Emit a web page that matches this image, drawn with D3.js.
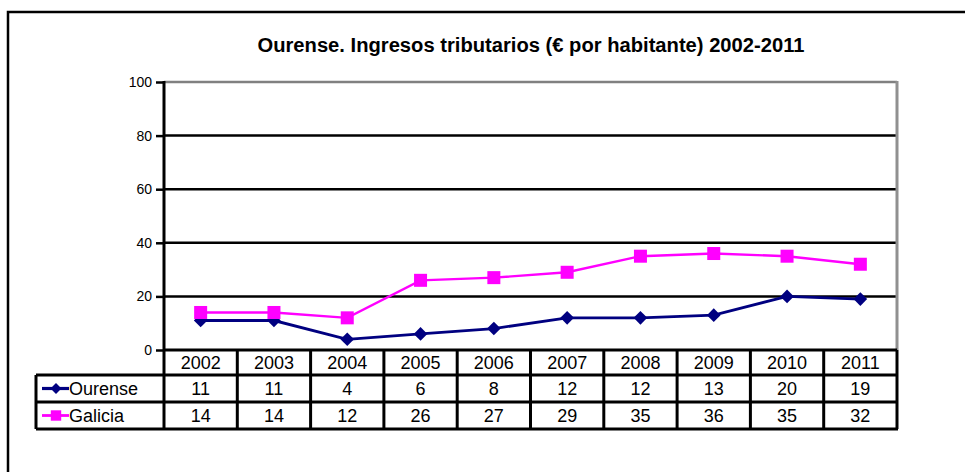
<!DOCTYPE html>
<html><head><meta charset="utf-8">
<script src="https://cdn.jsdelivr.net/npm/d3@7"></script>
<style>body{margin:0;background:#fff}svg{display:block}text{font-family:Arial,"Liberation Sans",sans-serif}</style>
</head><body>
<svg id="c" width="965" height="472"></svg>
<script>
const title = "Ourense. Ingresos tributarios (€ por habitante) 2002-2011";
const years = ["2002","2003","2004","2005","2006","2007","2008","2009","2010","2011"];
const ourense = [11,11,4,6,8,12,12,13,20,19];
const galicia = [14,14,12,26,27,29,35,36,35,32];
const yTicks = [0,20,40,60,80,100];
const seriesNames = ["Ourense","Galicia"];
const seriesColors = ["#000080","#FF00FF"];

const svg = d3.select("#c");
const L = 164, R = 897, T = 82, B = 350;
const rowY = [350, 375, 402, 429];
const tableLeft = 36;

// outer frame
svg.append("rect").attr("x",8).attr("y",12).attr("width",1000).attr("height",600)
  .attr("fill","none").attr("stroke","#000").attr("stroke-width",2.5);

svg.append("text").attr("x",531).attr("y",52).attr("text-anchor","middle")
  .attr("font-weight","bold").attr("font-size",19.5)
  .attr("textLength",547).attr("lengthAdjust","spacingAndGlyphs").text(title);

const x = d3.scaleBand().domain(years).range([L,R]);
const y = d3.scaleLinear().domain([0,100]).range([B,T]);

// gridlines
svg.append("g").selectAll("line").data(yTicks.filter(t=>t>0 && t<100)).join("line")
  .attr("x1",L).attr("x2",R).attr("y1",d=>y(d)).attr("y2",d=>y(d))
  .attr("stroke","#000").attr("stroke-width",2.5);
// plot border top/right gray
svg.append("line").attr("x1",L).attr("x2",R).attr("y1",y(100)).attr("y2",y(100)).attr("stroke","#808080").attr("stroke-width",2.5);
svg.append("line").attr("x1",R).attr("x2",R).attr("y1",y(100)-1).attr("y2",B).attr("stroke","#909090").attr("stroke-width",3);

// y axis
const yAxis = d3.axisLeft(y).tickValues(yTicks).tickSize(8).tickPadding(4);
const ga = svg.append("g").attr("transform",`translate(${L},0)`).call(yAxis);
ga.attr("font-size",null).attr("font-family",null);
ga.select(".domain").remove();
ga.selectAll(".tick line").attr("stroke","#000").attr("stroke-width",2.5);
ga.selectAll(".tick text").attr("font-size",14).attr("fill","#000");
svg.append("line").attr("x1",L).attr("x2",L).attr("y1",T-1).attr("y2",B).attr("stroke","#000").attr("stroke-width",3);

// lines
const allSeries = [ourense, galicia];
const line = d3.line().x((d,i)=>x(years[i])+x.bandwidth()/2).y(d=>y(d));
const lw = [2.8, 2.4];
allSeries.forEach((s,k)=>{
  svg.append("path").datum(s).attr("d",line).attr("fill","none")
    .attr("stroke",seriesColors[k]).attr("stroke-width",lw[k]);
});
function drawMarker(g,k,cx,cy,scale){
  if(k===0){
    const s=6.8*scale;
    g.append("path").attr("d",`M${cx},${cy-s}L${cx+s},${cy}L${cx},${cy+s}L${cx-s},${cy}Z`).attr("fill",seriesColors[0]);
  } else {
    const s=13*scale;
    g.append("rect").attr("x",cx-s/2).attr("y",cy-s/2).attr("width",s).attr("height",s).attr("fill",seriesColors[1]);
  }
}
const mg = svg.append("g");
allSeries.forEach((s,k)=>{
  s.forEach((v,i)=>drawMarker(mg,k,x(years[i])+x.bandwidth()/2,y(v),1));
});

// data table
const tg = svg.append("g");
const tableFont = 18;
years.forEach((yr,i)=>{
  tg.append("text").attr("x",x(yr)+x.bandwidth()/2).attr("y",(rowY[0]+rowY[1])/2+6.5)
    .attr("text-anchor","middle").attr("font-size",tableFont).text(yr);
  allSeries.forEach((s,k)=>{
    tg.append("text").attr("x",x(yr)+x.bandwidth()/2).attr("y",(rowY[k+1]+rowY[k+2])/2+6.5)
      .attr("text-anchor","middle").attr("font-size",tableFont).text(s[i]);
  });
});
seriesNames.forEach((n,k)=>{
  const cy=(rowY[k+1]+rowY[k+2])/2;
  tg.append("line").attr("x1",42).attr("x2",69).attr("y1",cy).attr("y2",cy)
    .attr("stroke",seriesColors[k]).attr("stroke-width",lw[k]+0.4);
  drawMarker(tg,k,56,cy,0.8);
  tg.append("text").attr("x",69).attr("y",cy+6.5).attr("font-size",tableFont).text(n);
});
// table lines
const tl = tg.append("g").attr("stroke","#000").attr("stroke-width",3);
tl.append("line").attr("x1",L).attr("x2",R).attr("y1",rowY[0]).attr("y2",rowY[0]);
[1,2,3].forEach(r=>tl.append("line").attr("x1",tableLeft).attr("x2",R+1).attr("y1",rowY[r]).attr("y2",rowY[r]));
tl.append("line").attr("x1",tableLeft).attr("x2",tableLeft).attr("y1",rowY[1]).attr("y2",rowY[3]);
tl.append("line").attr("x1",R).attr("x2",R).attr("y1",rowY[0]).attr("y2",rowY[3]);
years.forEach((yr,i)=>{
  tl.append("line").attr("x1",x(yr)).attr("x2",x(yr)).attr("y1",rowY[0]).attr("y2",rowY[3]);
});
</script>
</body></html>
